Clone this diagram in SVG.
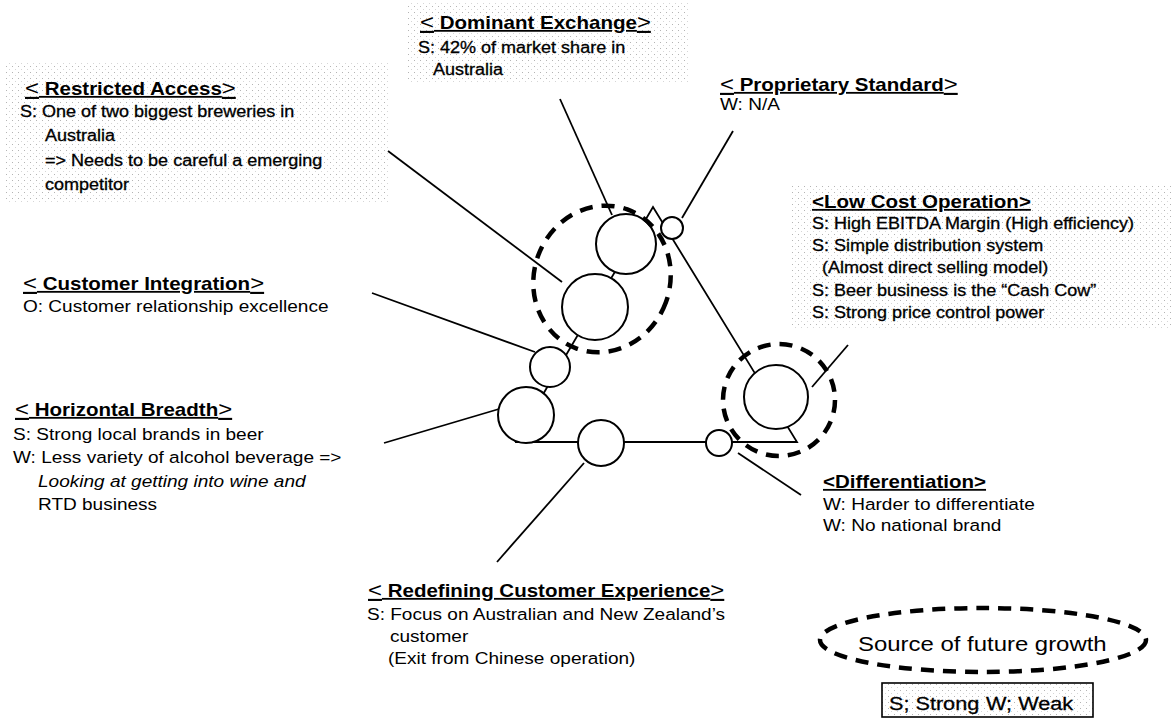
<svg xmlns="http://www.w3.org/2000/svg" width="1172" height="719" viewBox="0 0 1172 719">
<style>
text{font-family:"Liberation Sans",Arial,sans-serif;fill:#000}
.h{font-weight:bold;font-size:18px;text-decoration:underline}
.br{font-weight:normal;font-size:21px}
.b{font-size:16.7px}
.bs{font-size:15.8px;stroke:#000;stroke-width:0.3}
.lg{font-size:19px;stroke:#000;stroke-width:0.3}
.ln{stroke:#000;stroke-width:1.8;fill:none}
.c{stroke:#000;stroke-width:2;fill:#fff}
.d{stroke:#000;stroke-width:4.5;fill:none;stroke-dasharray:13 9}
</style>
<defs>
<pattern id="stip" width="6" height="6" patternUnits="userSpaceOnUse">
<rect x="0" y="0" width="1" height="1" fill="#b4b4b4"/>
<rect x="3" y="3" width="1" height="1" fill="#d6d6d6"/>
</pattern>
</defs>
<rect width="1172" height="719" fill="#fff"/>
<g id="backgrounds">
<rect x="408" y="3" width="282" height="80" fill="url(#stip)"/>
<rect x="5" y="63" width="385" height="140" fill="url(#stip)"/>
<rect x="790" y="186" width="382" height="143" fill="url(#stip)"/>
</g>
<g id="connectors">
<polyline class="ln" points="515,442 653,207 797,442 515,442"/>
<line class="ln" x1="560" y1="99" x2="612" y2="215"/>
<line class="ln" x1="388" y1="151" x2="562" y2="282"/>
<line class="ln" x1="733" y1="131" x2="682" y2="218"/>
<line class="ln" x1="372" y1="293" x2="535" y2="352"/>
<line class="ln" x1="384" y1="443" x2="499" y2="409"/>
<line class="ln" x1="497" y1="562" x2="584" y2="463"/>
<line class="ln" x1="738" y1="453" x2="801" y2="495"/>
<line class="ln" x1="812" y1="387" x2="848" y2="345"/>
</g>
<g id="circles">
<circle class="c" cx="626" cy="244" r="30"/>
<circle class="c" cx="595" cy="307" r="33"/>
<circle class="c" cx="672" cy="228" r="11"/>
<circle class="c" cx="550" cy="367" r="20"/>
<circle class="c" cx="526" cy="415" r="28"/>
<circle class="c" cx="601" cy="443" r="23"/>
<circle class="c" cx="719" cy="443" r="13"/>
<circle class="c" cx="776" cy="397" r="32"/>
<ellipse class="d" cx="602" cy="279" rx="68" ry="74" transform="rotate(20 602 279)"/>
<circle class="d" cx="779" cy="400" r="56"/>
</g>
<g id="node-restricted-access">
<text class="h" transform="translate(25,95) scale(1.14,1)"><tspan class="br">&lt;</tspan> Restricted Access<tspan class="br">&gt;</tspan></text>
<text class="bs" transform="translate(20,117) scale(1.14,1)">S: One of two biggest breweries in</text>
<text class="bs" transform="translate(45,141) scale(1.14,1)">Australia</text>
<text class="bs" transform="translate(45,166) scale(1.14,1)">=&gt; Needs to be careful a emerging</text>
<text class="bs" transform="translate(45,190) scale(1.14,1)">competitor</text>
</g>
<g id="node-dominant-exchange">
<text class="h" transform="translate(420,29) scale(1.14,1)"><tspan class="br">&lt;</tspan> Dominant Exchange<tspan class="br">&gt;</tspan></text>
<text class="bs" transform="translate(418,53) scale(1.14,1)">S: 42% of market share in</text>
<text class="bs" transform="translate(433,75) scale(1.14,1)">Australia</text>
</g>
<g id="node-proprietary-standard">
<text class="h" transform="translate(720,91) scale(1.14,1)"><tspan class="br">&lt;</tspan> Proprietary Standard<tspan class="br">&gt;</tspan></text>
<text class="b" transform="translate(720,110) scale(1.14,1)">W: N/A</text>
</g>
<g id="node-low-cost-operation">
<text class="h" transform="translate(812,208) scale(1.14,1)">&lt;Low Cost Operation&gt;</text>
<text class="bs" transform="translate(812,229) scale(1.14,1)">S: High EBITDA Margin (High efficiency)</text>
<text class="bs" transform="translate(812,251) scale(1.14,1)">S: Simple distribution system</text>
<text class="bs" transform="translate(822,273) scale(1.14,1)">(Almost direct selling model)</text>
<text class="bs" transform="translate(812,296) scale(1.14,1)">S: Beer business is the “Cash Cow”</text>
<text class="bs" transform="translate(812,318) scale(1.14,1)">S: Strong price control power</text>
</g>
<g id="node-customer-integration">
<text class="h" transform="translate(23,290) scale(1.14,1)"><tspan class="br">&lt;</tspan> Customer Integration<tspan class="br">&gt;</tspan></text>
<text class="b" transform="translate(23,312) scale(1.14,1)">O: Customer relationship excellence</text>
</g>
<g id="node-horizontal-breadth">
<text class="h" transform="translate(15,416) scale(1.14,1)"><tspan class="br">&lt;</tspan> Horizontal Breadth<tspan class="br">&gt;</tspan></text>
<text class="b" transform="translate(13,440) scale(1.14,1)">S: Strong local brands in beer</text>
<text class="b" transform="translate(13,463) scale(1.14,1)">W: Less variety of alcohol beverage =&gt;</text>
<text class="b" font-style="italic" transform="translate(38,487) scale(1.14,1)">Looking at getting into wine and</text>
<text class="b" transform="translate(38,510) scale(1.14,1)">RTD business</text>
</g>
<g id="node-differentiation">
<text class="h" transform="translate(823,488) scale(1.14,1)">&lt;Differentiation&gt;</text>
<text class="b" transform="translate(823,510) scale(1.14,1)">W: Harder to differentiate</text>
<text class="b" transform="translate(823,531) scale(1.14,1)">W: No national brand</text>
</g>
<g id="node-redefining-customer-experience">
<text class="h" transform="translate(368,597) scale(1.14,1)"><tspan class="br">&lt;</tspan> Redefining Customer Experience<tspan class="br">&gt;</tspan></text>
<text class="b" transform="translate(367,620) scale(1.14,1)">S: Focus on Australian and New Zealand’s</text>
<text class="b" transform="translate(390,642) scale(1.14,1)">customer</text>
<text class="b" transform="translate(388,664) scale(1.14,1)">(Exit from Chinese operation)</text>
</g>
<g id="legend-growth">
<ellipse class="d" cx="983" cy="640" rx="163" ry="32"/>
<text transform="translate(858,651) scale(1.14,1)" font-size="21">Source of future growth</text>
</g>
<g id="legend-sw">
<rect x="882" y="683" width="211" height="34" fill="url(#stip)" stroke="#000" stroke-width="1.6"/>
<text class="lg" transform="translate(889,710) scale(1.14,1)">S; Strong<tspan dx="6">W; Weak</tspan></text>
</g>
</svg>
